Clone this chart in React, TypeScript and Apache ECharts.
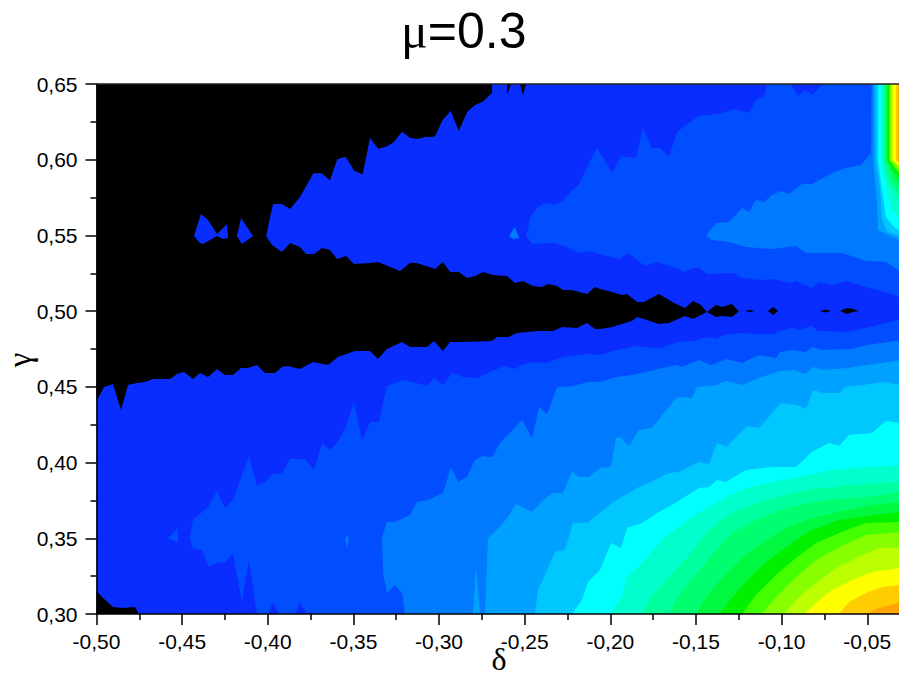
import React, { useEffect, useRef } from "react";
import * as echarts from "echarts";

type P = [number, number];

const titleSymbol = "μ";
const titleRest = "=0.3";
const xName = "δ";
const yName = "γ";

const levelColors = [
  "#000000", "#0A2DFF", "#004EFF", "#007AFF", "#00A2FF", "#00C8FF", "#00FFFF",
  "#00FFCC", "#00FF9E", "#00FF70", "#00F840", "#00F000", "#44FF00", "#88FF00",
  "#BBFF00", "#FFFF00", "#FFCC00", "#FFA500",
];

const baseField: P[] = [[-0.5, 0.65], [-0.03, 0.65], [-0.03, 0.3], [-0.5, 0.3]];

const level2Upper: P[] = [
  [-0.1085, 0.65], [-0.0945, 0.65], [-0.0904, 0.6421], [-0.0863, 0.646], [-0.0823, 0.6427], [-0.0758, 0.65], [-0.03, 0.65],
  [-0.03, 0.5087], [-0.0373, 0.512], [-0.0507, 0.5159], [-0.0624, 0.5199], [-0.0706, 0.5173], [-0.0782, 0.5192], [-0.0823, 0.5153],
  [-0.0916, 0.5199], [-0.0945, 0.5186], [-0.1056, 0.5212], [-0.1115, 0.5206], [-0.1231, 0.5219], [-0.1278, 0.5252], [-0.1436, 0.5245],
  [-0.1482, 0.5285], [-0.1523, 0.5285], [-0.1564, 0.5259], [-0.1617, 0.5285], [-0.1728, 0.5325], [-0.1798, 0.5298], [-0.1897, 0.5384],
  [-0.1944, 0.5344], [-0.2019, 0.5364], [-0.2066, 0.5377], [-0.213, 0.5397], [-0.2183, 0.5384], [-0.2253, 0.5424], [-0.2323, 0.545],
  [-0.2381, 0.545], [-0.2452, 0.5443], [-0.2492, 0.5496], [-0.2463, 0.5628], [-0.2422, 0.5688], [-0.2376, 0.5714], [-0.2323, 0.5701],
  [-0.2276, 0.5727], [-0.2224, 0.58], [-0.2183, 0.5833], [-0.2136, 0.5952], [-0.2078, 0.6077], [-0.199, 0.5912], [-0.1938, 0.6025],
  [-0.185, 0.6011], [-0.1809, 0.6209], [-0.1757, 0.6077], [-0.171, 0.6077], [-0.1658, 0.6018], [-0.1611, 0.6183], [-0.1558, 0.6229],
  [-0.1482, 0.6289], [-0.1366, 0.6302], [-0.1278, 0.6335], [-0.119, 0.6308], [-0.115, 0.6394], [-0.1103, 0.6421],
];
const level2Islet: P[] = [[-0.2592, 0.5496], [-0.2557, 0.5556], [-0.2533, 0.5483], [-0.2568, 0.5476]];
const level2Lower: P[] = [
  [-0.03, 0.4948], [-0.0484, 0.4895], [-0.0618, 0.4862], [-0.0788, 0.4869], [-0.0823, 0.4902], [-0.0893, 0.4875], [-0.0939, 0.4889],
  [-0.1009, 0.4869], [-0.1044, 0.4849], [-0.1144, 0.4849], [-0.1237, 0.4856], [-0.1336, 0.4842], [-0.1383, 0.4816], [-0.1436, 0.4829],
  [-0.1512, 0.4803], [-0.1611, 0.4796], [-0.1698, 0.4757], [-0.1745, 0.4757], [-0.185, 0.477], [-0.1961, 0.4743], [-0.206, 0.471],
  [-0.213, 0.4717], [-0.2276, 0.4697], [-0.237, 0.4658], [-0.2452, 0.4664], [-0.2516, 0.4644], [-0.2557, 0.4618], [-0.2615, 0.4638],
  [-0.2662, 0.4618], [-0.2778, 0.4559], [-0.286, 0.4565], [-0.2924, 0.4592], [-0.2977, 0.4512], [-0.303, 0.4559], [-0.307, 0.4506],
  [-0.3152, 0.4532], [-0.3211, 0.4545], [-0.3304, 0.4506], [-0.3351, 0.4268], [-0.3403, 0.4268], [-0.345, 0.4142], [-0.3497, 0.44],
  [-0.3543, 0.4235], [-0.359, 0.4136], [-0.3637, 0.4083], [-0.3683, 0.4129], [-0.373, 0.3951], [-0.3783, 0.4024], [-0.387, 0.4024],
  [-0.3917, 0.3931], [-0.397, 0.3925], [-0.4016, 0.3872], [-0.4063, 0.3845], [-0.411, 0.4043], [-0.4203, 0.3753], [-0.425, 0.37],
  [-0.4296, 0.3812], [-0.4349, 0.3707], [-0.4437, 0.3621], [-0.4454, 0.3502], [-0.4437, 0.3429], [-0.4384, 0.3423], [-0.4343, 0.331],
  [-0.4296, 0.3343], [-0.425, 0.3337], [-0.4203, 0.3403], [-0.4151, 0.3079], [-0.411, 0.3357], [-0.4063, 0.3], [-0.3999, 0.3],
  [-0.397, 0.3079], [-0.3934, 0.3], [-0.3841, 0.3], [-0.3812, 0.3079], [-0.3771, 0.3], [-0.03, 0.3],
];
const level2Speck: P[] = [[-0.4583, 0.3502], [-0.4524, 0.3568], [-0.4524, 0.3469]];

const level3Upper: P[] = [
  [-0.0475, 0.65], [-0.03, 0.65], [-0.03, 0.5259], [-0.0391, 0.5325], [-0.0507, 0.5331], [-0.0647, 0.5384], [-0.0858, 0.5384],
  [-0.0916, 0.543], [-0.1056, 0.541], [-0.1208, 0.5424], [-0.1307, 0.5457], [-0.1406, 0.547], [-0.1441, 0.5496], [-0.1383, 0.5582],
  [-0.1307, 0.5589], [-0.1231, 0.5681], [-0.119, 0.5655], [-0.115, 0.5734], [-0.1103, 0.5721], [-0.1056, 0.5767], [-0.1004, 0.5793],
  [-0.0957, 0.5774], [-0.0881, 0.584], [-0.0823, 0.584], [-0.0706, 0.5912], [-0.0624, 0.5945], [-0.0537, 0.5965], [-0.0478, 0.6044],
];
const level3Lower: P[] = [
  [-0.03, 0.4809], [-0.0502, 0.4776], [-0.0601, 0.475], [-0.0764, 0.4743], [-0.0817, 0.4763], [-0.0863, 0.473], [-0.0939, 0.4743],
  [-0.1009, 0.473], [-0.1033, 0.4691], [-0.1132, 0.471], [-0.1231, 0.4658], [-0.1325, 0.4684], [-0.1412, 0.4644], [-0.1482, 0.4677],
  [-0.1582, 0.4631], [-0.1617, 0.4644], [-0.1745, 0.4611], [-0.1874, 0.4578], [-0.1967, 0.4565], [-0.206, 0.4532], [-0.213, 0.4532],
  [-0.2218, 0.4506], [-0.2311, 0.4499], [-0.237, 0.4321], [-0.2416, 0.4367], [-0.2457, 0.4162], [-0.2516, 0.4281], [-0.2644, 0.4129],
  [-0.2691, 0.4037], [-0.2743, 0.4043], [-0.279, 0.4017], [-0.2837, 0.3905], [-0.2889, 0.3872], [-0.293, 0.3971], [-0.2977, 0.3799],
  [-0.3065, 0.3753], [-0.3129, 0.374], [-0.317, 0.3654], [-0.3257, 0.3608], [-0.3304, 0.3608], [-0.3333, 0.3508], [-0.3327, 0.3271],
  [-0.3304, 0.3139], [-0.3257, 0.3192], [-0.3216, 0.3139], [-0.3199, 0.3], [-0.03, 0.3],
];
const level3Speck: P[] = [[-0.3549, 0.3489], [-0.3537, 0.3528], [-0.3526, 0.3489], [-0.3537, 0.3436]];

const level4Upper: P[] = [[-0.0464, 0.65], [-0.0464, 0.5985], [-0.0443, 0.5721], [-0.0437, 0.5536], [-0.0379, 0.5503], [-0.03, 0.5463], [-0.03, 0.65]];
const level4Lower: P[] = [
  [-0.03, 0.4677], [-0.0502, 0.4644], [-0.0618, 0.4625], [-0.0758, 0.4611], [-0.0817, 0.4631], [-0.0863, 0.4585], [-0.0934, 0.4611],
  [-0.1009, 0.4605], [-0.1132, 0.4559], [-0.1231, 0.4512], [-0.1325, 0.4539], [-0.1377, 0.4512], [-0.1494, 0.4499], [-0.1523, 0.4426],
  [-0.1611, 0.4433], [-0.1757, 0.4228], [-0.1833, 0.4215], [-0.1891, 0.4109], [-0.1944, 0.4169], [-0.1967, 0.4162], [-0.1996, 0.3971],
  [-0.206, 0.3964], [-0.2125, 0.3905], [-0.2189, 0.3905], [-0.2224, 0.3944], [-0.2276, 0.3799], [-0.2335, 0.3799], [-0.2393, 0.3753],
  [-0.2457, 0.3674], [-0.2551, 0.3726], [-0.2597, 0.3641], [-0.2662, 0.3555], [-0.2714, 0.3502], [-0.2732, 0.3], [-0.2761, 0.3],
  [-0.2784, 0.331], [-0.2802, 0.3], [-0.03, 0.3],
];

const level5Upper: P[] = [[-0.0452, 0.65], [-0.0449, 0.5985], [-0.0426, 0.5813], [-0.0414, 0.5615], [-0.0385, 0.5523], [-0.03, 0.549], [-0.03, 0.65]];
const level5Lower: P[] = [
  [-0.03, 0.4512], [-0.0408, 0.4532], [-0.0525, 0.4512], [-0.063, 0.4499], [-0.0659, 0.4459], [-0.0758, 0.4459], [-0.0817, 0.4479],
  [-0.0858, 0.4354], [-0.091, 0.438], [-0.1004, 0.4393], [-0.1132, 0.4228], [-0.1202, 0.4242], [-0.1325, 0.4103], [-0.1377, 0.4129],
  [-0.1424, 0.3991], [-0.1482, 0.4004], [-0.1599, 0.3938], [-0.1658, 0.3931], [-0.1774, 0.3865], [-0.1844, 0.3832], [-0.199, 0.3733],
  [-0.206, 0.3667], [-0.2136, 0.3601], [-0.2218, 0.3601], [-0.2265, 0.3423], [-0.2323, 0.3409], [-0.2422, 0.3159], [-0.244, 0.3], [-0.03, 0.3],
];

const level6Upper: P[] = [[-0.0437, 0.65], [-0.0437, 0.5998], [-0.042, 0.5846], [-0.0391, 0.5622], [-0.0344, 0.5556], [-0.03, 0.5523], [-0.03, 0.65]];
const level6Lower: P[] = [
  [-0.03, 0.4261], [-0.0391, 0.4275], [-0.0472, 0.4195], [-0.0607, 0.4182], [-0.0665, 0.4109], [-0.0723, 0.4129], [-0.0823, 0.407],
  [-0.0916, 0.3971], [-0.1056, 0.3971], [-0.1208, 0.3951], [-0.1325, 0.3872], [-0.1377, 0.3885], [-0.1424, 0.3839], [-0.1482, 0.3832],
  [-0.164, 0.372], [-0.1716, 0.3674], [-0.1815, 0.3601], [-0.1903, 0.3568], [-0.1938, 0.3436], [-0.1996, 0.3469], [-0.206, 0.3291],
  [-0.213, 0.3211], [-0.2166, 0.3092], [-0.2224, 0.3], [-0.03, 0.3],
];

const level7Upper: P[] = [[-0.042, 0.65], [-0.042, 0.5998], [-0.0391, 0.5833], [-0.0356, 0.5668], [-0.03, 0.5602], [-0.03, 0.65]];
const level7Lower: P[] = [
  [-0.1996, 0.3], [-0.1932, 0.3112], [-0.1903, 0.3244], [-0.1815, 0.3337], [-0.1687, 0.3502], [-0.1523, 0.3641], [-0.1325, 0.3773],
  [-0.1208, 0.3832], [-0.0998, 0.3885], [-0.0899, 0.3905], [-0.0706, 0.3951], [-0.0507, 0.3971], [-0.03, 0.3984], [-0.03, 0.3],
];
const level8Upper: P[] = [[-0.0408, 0.65], [-0.0408, 0.5998], [-0.0373, 0.5846], [-0.03, 0.5701], [-0.03, 0.65]];
const level8Lower: P[] = [
  [-0.1815, 0.3], [-0.1757, 0.3125], [-0.1646, 0.3258], [-0.1541, 0.339], [-0.1424, 0.3555], [-0.129, 0.3667], [-0.1091, 0.3753],
  [-0.0858, 0.3819], [-0.0589, 0.3852], [-0.03, 0.3872], [-0.03, 0.3],
];
const level9Upper: P[] = [[-0.0399, 0.65], [-0.0399, 0.5998], [-0.0356, 0.5846], [-0.03, 0.5767], [-0.03, 0.65]];
const level9Lower: P[] = [
  [-0.1658, 0.3], [-0.1599, 0.3125], [-0.1482, 0.3291], [-0.1383, 0.3423], [-0.129, 0.3535], [-0.115, 0.3621], [-0.0974, 0.37],
  [-0.0741, 0.3753], [-0.0507, 0.3773], [-0.03, 0.3806], [-0.03, 0.3],
];
const level10Upper: P[] = [[-0.0391, 0.65], [-0.0391, 0.5998], [-0.0344, 0.5886], [-0.03, 0.582], [-0.03, 0.65]];
const level10Lower: P[] = [
  [-0.15, 0.3], [-0.1441, 0.3112], [-0.1348, 0.3238], [-0.1231, 0.337], [-0.1115, 0.3469], [-0.0974, 0.3568], [-0.0823, 0.3634],
  [-0.0624, 0.3687], [-0.0472, 0.372], [-0.03, 0.374], [-0.03, 0.3],
];
const level11Upper: P[] = [[-0.0382, 0.65], [-0.0382, 0.5998], [-0.0338, 0.5912], [-0.03, 0.5866], [-0.03, 0.65]];
const level11Lower: P[] = [
  [-0.1366, 0.3], [-0.129, 0.3106], [-0.119, 0.3238], [-0.1074, 0.3357], [-0.0957, 0.3456], [-0.0823, 0.3555], [-0.0665, 0.3621],
  [-0.0472, 0.3654], [-0.03, 0.3674], [-0.03, 0.3],
];
const level12Upper: P[] = [[-0.0373, 0.65], [-0.0373, 0.5998], [-0.0332, 0.5932], [-0.03, 0.5892], [-0.03, 0.65]];
const level12Lower: P[] = [
  [-0.1231, 0.3], [-0.115, 0.3125], [-0.1033, 0.3258], [-0.0916, 0.337], [-0.0799, 0.3469], [-0.0665, 0.3535], [-0.0507, 0.3601],
  [-0.03, 0.3608], [-0.03, 0.3],
];
const level13Upper: P[] = [[-0.0367, 0.65], [-0.0367, 0.5998], [-0.0326, 0.5945], [-0.03, 0.5919], [-0.03, 0.65]];
const level13Lower: P[] = [
  [-0.1115, 0.3], [-0.1033, 0.3112], [-0.0916, 0.3244], [-0.0799, 0.3357], [-0.0665, 0.3442], [-0.0507, 0.3522], [-0.03, 0.3542], [-0.03, 0.3],
];
const level14Upper: P[] = [[-0.0359, 0.65], [-0.0359, 0.5998], [-0.0321, 0.5958], [-0.03, 0.5932], [-0.03, 0.65]];
const level14Lower: P[] = [
  [-0.0986, 0.3], [-0.0899, 0.3112], [-0.0799, 0.3205], [-0.0682, 0.3304], [-0.0566, 0.337], [-0.0431, 0.3436], [-0.03, 0.3436], [-0.03, 0.3],
];
const level15Upper: P[] = [[-0.0353, 0.65], [-0.0353, 0.5998], [-0.0317, 0.5965], [-0.03, 0.5952], [-0.03, 0.65]];
const level15Lower: P[] = [
  [-0.0869, 0.3], [-0.0799, 0.3073], [-0.0706, 0.3159], [-0.0589, 0.3225], [-0.0472, 0.3277], [-0.03, 0.3304], [-0.03, 0.3],
];
const level16Upper: P[] = [[-0.0332, 0.65], [-0.0332, 0.5992], [-0.03, 0.5972], [-0.03, 0.65]];
const level16Lower: P[] = [[-0.0665, 0.3], [-0.0607, 0.3079], [-0.0507, 0.3139], [-0.0414, 0.3178], [-0.03, 0.3192], [-0.03, 0.3]];
const level17Upper: P[] = [[-0.0318, 0.65], [-0.0318, 0.5985], [-0.03, 0.5978], [-0.03, 0.65]];
const level17Lower: P[] = [[-0.0507, 0.3], [-0.0431, 0.304], [-0.03, 0.3079], [-0.03, 0.3]];

const blackWedge: P[] = [
  [-0.5, 0.65], [-0.2691, 0.65], [-0.2691, 0.6443], [-0.2745, 0.6383], [-0.279, 0.6361], [-0.2835, 0.6317], [-0.2885, 0.619],
  [-0.2932, 0.6324], [-0.2979, 0.6262], [-0.3025, 0.6152], [-0.3082, 0.615], [-0.3127, 0.6137], [-0.317, 0.6145], [-0.3216, 0.6185],
  [-0.3263, 0.6117], [-0.331, 0.6086], [-0.3355, 0.6073], [-0.3403, 0.6143], [-0.3446, 0.5904], [-0.3495, 0.5927], [-0.3545, 0.602],
  [-0.3594, 0.6003], [-0.3637, 0.5864], [-0.3685, 0.591], [-0.3734, 0.591], [-0.3812, 0.5754], [-0.387, 0.5675], [-0.3917, 0.5708],
  [-0.397, 0.5708], [-0.401, 0.5496], [-0.3975, 0.5437], [-0.3917, 0.5391], [-0.387, 0.545], [-0.3812, 0.5424], [-0.3777, 0.5377],
  [-0.373, 0.5377], [-0.3683, 0.5417], [-0.3637, 0.5404], [-0.3596, 0.5344], [-0.3543, 0.5364], [-0.3497, 0.5311], [-0.3403, 0.5318],
  [-0.3357, 0.5325], [-0.3228, 0.5265], [-0.317, 0.5318], [-0.3129, 0.5318], [-0.3024, 0.5278], [-0.2977, 0.5325], [-0.2936, 0.5259],
  [-0.2884, 0.5259], [-0.2837, 0.5219], [-0.279, 0.5232], [-0.2743, 0.5259], [-0.2685, 0.5239], [-0.2603, 0.5232], [-0.2557, 0.5186],
  [-0.251, 0.5199], [-0.2452, 0.5166], [-0.2399, 0.5159], [-0.2364, 0.5179], [-0.2311, 0.5166], [-0.2276, 0.514], [-0.2224, 0.514],
  [-0.2136, 0.5113], [-0.209, 0.5159], [-0.206, 0.5146], [-0.199, 0.5126], [-0.1932, 0.5107], [-0.1903, 0.5113], [-0.1844, 0.506],
  [-0.1803, 0.506], [-0.1716, 0.5113], [-0.1628, 0.5054], [-0.1564, 0.5021], [-0.1517, 0.5067], [-0.1471, 0.5041], [-0.1436, 0.4995],
  [-0.1383, 0.5041], [-0.1348, 0.5027], [-0.129, 0.5047], [-0.1249, 0.4998], [-0.129, 0.4961], [-0.1348, 0.4968], [-0.1383, 0.4961],
  [-0.1436, 0.4995], [-0.1517, 0.4948], [-0.1564, 0.4968], [-0.1658, 0.4922], [-0.1716, 0.4915], [-0.1803, 0.4948], [-0.1844, 0.4961],
  [-0.1874, 0.4935], [-0.199, 0.4895], [-0.206, 0.4882], [-0.209, 0.4882], [-0.2136, 0.4922], [-0.2195, 0.4889], [-0.2282, 0.4895],
  [-0.2335, 0.4869], [-0.2422, 0.4869], [-0.2545, 0.4856], [-0.2597, 0.4829], [-0.2662, 0.4829], [-0.2691, 0.4803], [-0.286, 0.4796],
  [-0.2936, 0.4796], [-0.2977, 0.4737], [-0.303, 0.4803], [-0.307, 0.4763], [-0.317, 0.4763], [-0.3216, 0.4796], [-0.3304, 0.475],
  [-0.3357, 0.4684], [-0.3403, 0.4737], [-0.3491, 0.4737], [-0.359, 0.4697], [-0.3648, 0.4644], [-0.3736, 0.4664], [-0.3812, 0.4618],
  [-0.3882, 0.4638], [-0.3917, 0.4631], [-0.3958, 0.4592], [-0.4016, 0.4592], [-0.4063, 0.4644], [-0.4115, 0.4625], [-0.4156, 0.4625],
  [-0.4203, 0.4578], [-0.425, 0.4578], [-0.4296, 0.4618], [-0.4349, 0.4565], [-0.4396, 0.4592], [-0.4437, 0.4552], [-0.4489, 0.4598],
  [-0.453, 0.4585], [-0.4571, 0.4552], [-0.467, 0.4552], [-0.4717, 0.4532], [-0.4764, 0.4526], [-0.4816, 0.4512], [-0.4857, 0.4347],
  [-0.4904, 0.4519], [-0.4956, 0.4499], [-0.5, 0.4407],
];
const blackCorner: P[] = [[-0.5, 0.3152], [-0.4962, 0.3106], [-0.4904, 0.3046], [-0.4845, 0.304], [-0.4775, 0.3046], [-0.4752, 0.3], [-0.5, 0.3]];
const blackNotchA: P[] = [[-0.2603, 0.65], [-0.2603, 0.6427], [-0.258, 0.65]];
const blackNotchB: P[] = [[-0.2527, 0.65], [-0.251, 0.6427], [-0.2492, 0.65]];
const blackSliverA: P[] = [[-0.1214, 0.5001], [-0.1185, 0.5007], [-0.1155, 0.5001], [-0.1185, 0.4995]];
const blackDiamond: P[] = [[-0.108, 0.5001], [-0.105, 0.5027], [-0.1021, 0.5001], [-0.105, 0.4975]];
const blackSliverB: P[] = [[-0.0776, 0.5001], [-0.0741, 0.5011], [-0.0712, 0.5001], [-0.0741, 0.4991]];
const blackSliverC: P[] = [[-0.0659, 0.5001], [-0.0618, 0.5021], [-0.0583, 0.5014], [-0.0548, 0.5001], [-0.0583, 0.4994], [-0.0618, 0.4981]];

const level1IsletA: P[] = [
  [-0.4431, 0.5496], [-0.439, 0.5642], [-0.4349, 0.5602], [-0.4296, 0.5509], [-0.4238, 0.5575], [-0.4232, 0.5483], [-0.4261, 0.5476],
  [-0.4296, 0.5496], [-0.4378, 0.5443], [-0.4396, 0.545],
];
const level1IsletB: P[] = [[-0.418, 0.5496], [-0.4156, 0.5615], [-0.4086, 0.5496], [-0.4151, 0.5443]];

// Painter's order: [colour level, outline]
const layers: [number, P[]][] = [
  [1, baseField],
  [2, level2Upper], [2, level2Lower], [2, level2Speck],
  [3, level2Islet], [3, level3Upper], [3, level3Lower],
  [4, level4Upper], [4, level4Lower],
  [5, level5Upper], [5, level5Lower],
  [6, level6Upper], [6, level6Lower],
  [7, level7Upper], [7, level7Lower],
  [8, level8Upper], [8, level8Lower],
  [9, level9Upper], [9, level9Lower],
  [10, level10Upper], [10, level10Lower],
  [11, level11Upper], [11, level11Lower],
  [12, level12Upper], [12, level12Lower],
  [13, level13Upper], [13, level13Lower],
  [14, level14Upper], [14, level14Lower],
  [15, level15Upper], [15, level15Lower],
  [16, level16Upper], [16, level16Lower],
  [17, level17Upper], [17, level17Lower],
  [3, level3Speck],
  [0, blackWedge], [0, blackCorner], [0, blackNotchA], [0, blackNotchB],
  [0, blackSliverA], [0, blackDiamond], [0, blackSliverB], [0, blackSliverC],
  [1, level1IsletA], [1, level1IsletB],
];

const comma = (v: number) => v.toFixed(2).replace(".", ",");
const sans = "Liberation Sans";
const serif = "Liberation Serif";

export default function App() {
  const ref = useRef<HTMLDivElement>(null);
  useEffect(() => {
    const chart = echarts.init(ref.current!, null, { renderer: "svg" });
    const line = { color: "#000", width: 1.6 };
    chart.setOption({
      animation: false,
      backgroundColor: "#fff",
      title: {
        text: `{m|${titleSymbol}}{r|${titleRest}}`,
        left: 401,
        top: 6,
        padding: 0,
        textStyle: {
          fontWeight: "normal",
          rich: {
            m: { fontFamily: serif, fontSize: 50, fontWeight: "normal", color: "#000" },
            r: { fontFamily: sans, fontSize: 50, fontWeight: "normal", color: "#000" },
          },
        },
      },
      graphic: [
        {
          type: "text", x: 499, y: 675,
          style: { text: xName, fontFamily: serif, fontSize: 32, fill: "#000", align: "center", verticalAlign: "bottom" },
        },
        {
          type: "text", x: 20, y: 360, rotation: Math.PI / 2,
          style: { text: yName, fontFamily: serif, fontSize: 33, fill: "#000", align: "center", verticalAlign: "middle" },
        },
      ],
      grid: { left: 96.5, top: 84, width: 856.4, height: 530, containLabel: false, outerBoundsMode: "none" },
      xAxis: [
        {
          type: "value", min: -0.5, max: 0, interval: 0.05, position: "bottom", z: 5,
          splitLine: { show: false },
          axisLine: { onZero: false, lineStyle: line },
          axisTick: { length: 11, lineStyle: { color: "#000", width: 1.5 } },
          minorTick: { show: true, splitNumber: 2, length: 6, lineStyle: { color: "#000", width: 1.5 } },
          axisLabel: { margin: 17, fontFamily: sans, fontSize: 21, color: "#000", formatter: comma, showMaxLabel: false },
        },
        {
          type: "value", min: -0.5, max: 0, position: "top", z: 5,
          splitLine: { show: false },
          axisLine: { onZero: false, lineStyle: { color: "#222", width: 1.6 } },
          axisTick: { show: false }, axisLabel: { show: false },
        },
      ],
      yAxis: {
        type: "value", min: 0.3, max: 0.65, interval: 0.05, position: "left", z: 5,
        splitLine: { show: false },
        axisLine: { onZero: false, lineStyle: line },
        axisTick: { length: 11, lineStyle: { color: "#000", width: 1.5 } },
        minorTick: { show: true, splitNumber: 2, length: 6, lineStyle: { color: "#000", width: 1.5 } },
        axisLabel: { margin: 19, fontFamily: sans, fontSize: 21, color: "#000", formatter: comma },
      },
      series: [
        {
          type: "custom",
          coordinateSystem: "cartesian2d",
          xAxisIndex: 0,
          yAxisIndex: 0,
          data: layers.map((_, i) => [-0.5, 0.3, i]),
          encode: { x: 0, y: 1 },
          renderItem: (params: any, api: any) => {
            const [level, outline] = layers[params.dataIndex];
            return {
              type: "polygon",
              shape: { points: outline.map((p) => api.coord(p)) },
              style: { fill: levelColors[level] },
            };
          },
        },
      ],
    });
    return () => chart.dispose();
  }, []);
  return <div ref={ref} style={{ position: "fixed", left: 0, top: 0, width: 899, height: 675 }} />;
}
